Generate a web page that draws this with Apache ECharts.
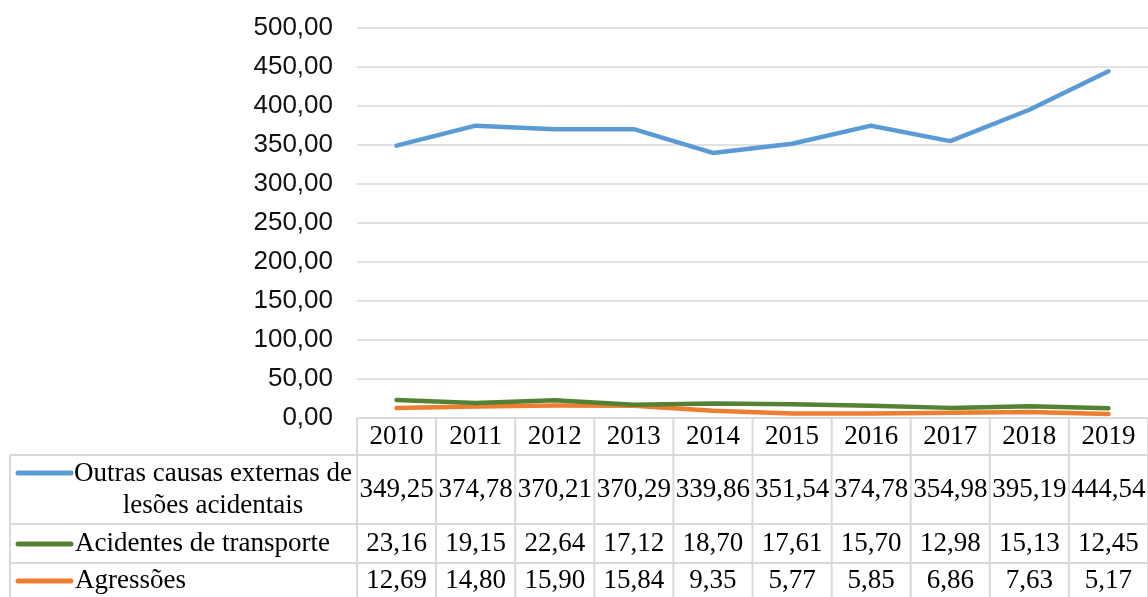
<!DOCTYPE html>
<html style="height: 100%">
<head>
    <meta charset="utf-8">
</head>
<body style="height: 100%; margin: 0; background: #fff">
    <div id="container" style="width: 1148px; height: 597px"></div>
    <script src="https://cdn.jsdelivr.net/npm/echarts@6/dist/echarts.min.js"></script>
    <script>
        const years = ['2010', '2011', '2012', '2013', '2014', '2015', '2016', '2017', '2018', '2019'];
        const outras = [349.25, 374.78, 370.21, 370.29, 339.86, 351.54, 374.78, 354.98, 395.19, 444.54];
        const transporte = [23.16, 19.15, 22.64, 17.12, 18.70, 17.61, 15.70, 12.98, 15.13, 12.45];
        const agressoes = [12.69, 14.80, 15.90, 15.84, 9.35, 5.77, 5.85, 6.86, 7.63, 5.17];
        const seriesNames = ['Outras causas externas de\nlesões acidentais', 'Acidentes de transporte', 'Agressões'];
        const colors = ['#5B9BD5', '#548235', '#ED7D31'];
        const seriesData = [outras, transporte, agressoes];

        const fmt = v => v.toFixed(2).replace('.', ',');
        const serif = 'Liberation Serif, Times New Roman, serif';
        const border = '#d9d9d9';

        const dom = document.getElementById('container');
        const myChart = echarts.init(dom);

        const option = {
            animation: false,
            grid: {
                left: 357,
                top: 28,
                width: 792,
                height: 390
            },
            xAxis: {
                type: 'category',
                data: years,
                axisLine: { show: false },
                axisTick: { show: false },
                axisLabel: { show: false }
            },
            yAxis: {
                type: 'value',
                min: 0,
                max: 500,
                interval: 50,
                axisLine: { show: false },
                axisTick: { show: false },
                splitLine: {
                    lineStyle: { color: border, width: 1.5 }
                },
                axisLabel: {
                    color: '#111',
                    fontFamily: 'Liberation Sans, Arial, sans-serif',
                    fontSize: 26,
                    margin: 24,
                    formatter: v => fmt(v)
                }
            },
            series: seriesData.map((d, i) => ({
                name: seriesNames[i],
                type: 'line',
                data: d,
                symbol: 'none',
                z: 3 - i + 2,
                lineStyle: { color: colors[i], width: 4.5, cap: 'round', join: 'round' }
            }))
        };

        myChart.setOption(option);

        // data table below the plot, positioned from the category axis
        const xs = years.map((y, i) => myChart.convertToPixel({ xAxisIndex: 0 }, i));
        const colW = xs[1] - xs[0];
        const left = xs[0] - colW / 2;
        const right = left + colW * years.length;
        const rows = [418, 455, 524, 563, 600];
        const tableLeft = 10;
        const g = [];

        const hline = (x1, x2, y) => g.push({ type: 'line', shape: { x1, y1: y, x2, y2: y }, style: { stroke: border, lineWidth: 2 }, z: 10 });
        const vline = (x, y1, y2) => g.push({ type: 'line', shape: { x1: x, y1, x2: x, y2 }, style: { stroke: border, lineWidth: 2 }, z: 10 });

        hline(left, right, rows[0]);
        for (let r = 1; r < rows.length - 1; r++) hline(tableLeft, right, rows[r]);
        vline(tableLeft, rows[1], rows[4]);
        for (let c = 0; c <= years.length; c++) vline(left + c * colW, rows[0], rows[4]);

        const txt = (x, y, text, align) => g.push({
            type: 'text', x, y, z: 11,
            style: { text, fill: '#000', font: '27px ' + serif, align: align || 'center', verticalAlign: 'middle', lineHeight: 32 }
        });

        years.forEach((y, i) => txt(xs[i], 437, y));
        const rowMid = [490, 544, 581];
        seriesData.forEach((d, r) => {
            d.forEach((v, i) => txt(xs[i], rowMid[r], fmt(v)));
            const labelCenter = r === 0 ? 213 : null;
            if (r === 0) txt(213, rowMid[r], seriesNames[r]);
            else txt(75, rowMid[r], seriesNames[r], 'left');
            const my = r === 0 ? 473 : rowMid[r];
            g.push({
                type: 'line', z: 11,
                shape: { x1: 18, y1: my, x2: 71, y2: my },
                style: { stroke: colors[r], lineWidth: 5, lineCap: 'round' }
            });
        });

        myChart.setOption({ graphic: g });
    </script>
</body>
</html>
